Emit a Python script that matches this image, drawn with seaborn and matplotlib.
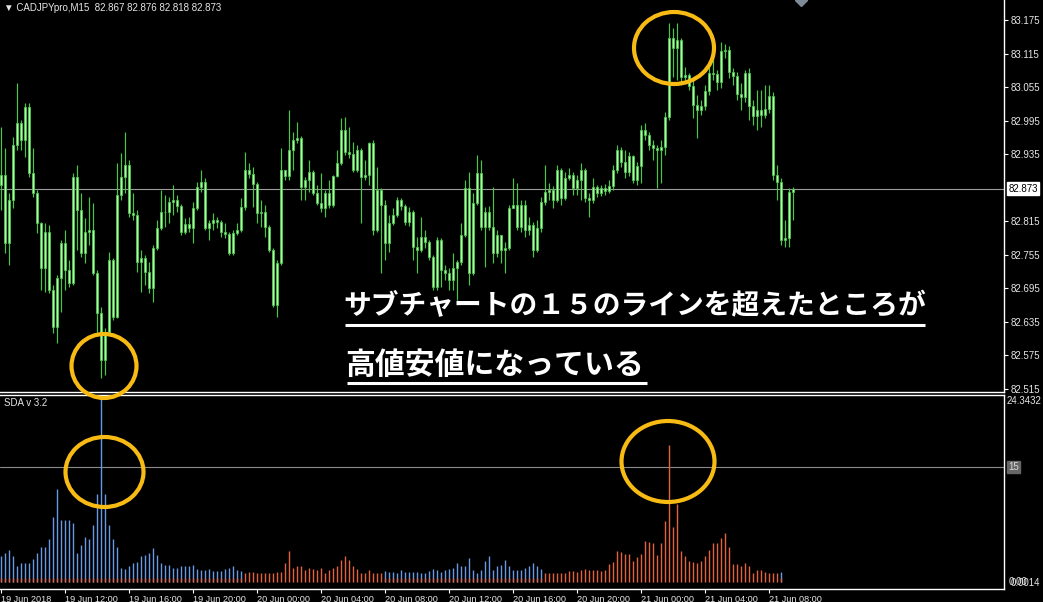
import numpy as np
import matplotlib
matplotlib.use('Agg')
import matplotlib.pyplot as plt
import seaborn as sns
from matplotlib.patches import Ellipse

# ---- data (CADJPY M15) ----
first_open = 82.880
close = [
    82.898, 82.776, 82.853, 82.952, 82.991, 82.961, 83.020, 82.901, 82.866, 82.812,
    82.732, 82.796, 82.692, 82.626, 82.714, 82.776, 82.728, 82.705, 82.894, 82.835,
    82.758, 82.796, 82.800, 82.723, 82.651, 82.567, 82.617, 82.746, 82.644, 82.862,
    82.894, 82.916, 82.830, 82.826, 82.742, 82.749, 82.724, 82.696, 82.767, 82.803,
    82.832, 82.832, 82.850, 82.853, 82.843, 82.796, 82.810, 82.803, 82.839, 82.876,
    82.885, 82.803, 82.812, 82.817, 82.814, 82.796, 82.792, 82.758, 82.794, 82.800,
    82.841, 82.907, 82.900, 82.882, 82.830, 82.832, 82.805, 82.764, 82.665, 82.741,
    82.907, 82.896, 82.943, 82.961, 82.964, 82.876, 82.889, 82.903, 82.866, 82.848,
    82.839, 82.866, 82.844, 82.896, 82.919, 82.978, 82.939, 82.936, 82.907, 82.943,
    82.894, 82.898, 82.955, 82.800, 82.871, 82.844, 82.776, 82.812, 82.826, 82.853,
    82.843, 82.814, 82.832, 82.769, 82.764, 82.787, 82.778, 82.751, 82.698, 82.782,
    82.728, 82.723, 82.710, 82.732, 82.742, 82.791, 82.875, 82.723, 82.848, 82.901,
    82.805, 82.832, 82.805, 82.758, 82.791, 82.764, 82.767, 82.839, 82.844, 82.805,
    82.844, 82.800, 82.809, 82.764, 82.803, 82.850, 82.868, 82.871, 82.853, 82.907,
    82.857, 82.893, 82.898, 82.875, 82.889, 82.907, 82.857, 82.853, 82.876, 82.866,
    82.875, 82.869, 82.878, 82.907, 82.943, 82.921, 82.903, 82.932, 82.889, 82.914,
    82.978, 82.970, 82.952, 82.946, 82.943, 82.948, 83.002, 83.143, 83.125, 83.139,
    83.073, 83.077, 83.057, 83.023, 83.014, 83.021, 83.048, 83.080, 83.079, 83.064,
    83.120, 83.122, 83.082, 83.075, 83.043, 83.037, 83.080, 83.021, 83.003, 83.014,
    83.005, 83.016, 83.039, 82.898, 82.885, 82.782, 82.785, 82.867, 82.873,
]
high = [
    82.984, 82.946, 82.866, 82.966, 83.063, 82.996, 83.027, 83.027, 82.946, 82.871,
    82.814, 82.812, 82.809, 82.701, 82.719, 82.782, 82.800, 82.746, 82.901, 82.916,
    82.866, 82.821, 82.859, 82.848, 82.728, 82.662, 82.624, 82.760, 82.749, 82.919,
    82.937, 82.975, 82.925, 82.866, 82.835, 82.764, 82.755, 82.742, 82.773, 82.817,
    82.871, 82.862, 82.859, 82.880, 82.862, 82.846, 82.821, 82.823, 82.850, 82.885,
    82.907, 82.893, 82.817, 82.830, 82.823, 82.817, 82.812, 82.796, 82.800, 82.812,
    82.857, 82.939, 82.919, 82.912, 82.885, 82.853, 82.844, 82.809, 82.767, 82.746,
    82.946, 82.907, 83.014, 82.975, 82.993, 82.968, 82.894, 82.925, 82.907, 82.880,
    82.901, 82.871, 82.889, 82.898, 82.943, 83.000, 83.002, 82.984, 82.957, 82.952,
    82.946, 82.925, 82.957, 82.961, 82.912, 82.875, 82.853, 82.826, 82.839, 82.859,
    82.857, 82.846, 82.841, 82.835, 82.787, 82.823, 82.800, 82.782, 82.755, 82.787,
    82.785, 82.737, 82.732, 82.758, 82.746, 82.812, 82.889, 82.903, 82.866, 82.934,
    82.925, 82.841, 82.843, 82.876, 82.800, 82.791, 82.778, 82.844, 82.893, 82.884,
    82.853, 82.853, 82.823, 82.814, 82.817, 82.859, 82.916, 82.884, 82.878, 82.916,
    82.910, 82.903, 82.910, 82.903, 82.898, 82.919, 82.910, 82.866, 82.893, 82.880,
    82.880, 82.882, 82.889, 82.916, 82.952, 82.948, 82.943, 82.939, 82.934, 82.921,
    82.987, 82.991, 82.975, 82.961, 82.952, 82.961, 83.011, 83.170, 83.161, 83.170,
    83.143, 83.091, 83.080, 83.068, 83.041, 83.032, 83.059, 83.091, 83.116, 83.086,
    83.136, 83.132, 83.129, 83.089, 83.082, 83.063, 83.086, 83.089, 83.032, 83.050,
    83.050, 83.059, 83.059, 83.046, 82.916, 82.893, 82.817, 82.875, 82.876,
]
low = [
    82.835, 82.758, 82.737, 82.839, 82.943, 82.943, 82.930, 82.894, 82.859, 82.794,
    82.692, 82.689, 82.687, 82.615, 82.597, 82.653, 82.692, 82.698, 82.701, 82.764,
    82.751, 82.741, 82.773, 82.719, 82.615, 82.535, 82.540, 82.612, 82.639, 82.642,
    82.853, 82.866, 82.823, 82.817, 82.724, 82.689, 82.701, 82.687, 82.671, 82.764,
    82.800, 82.805, 82.812, 82.826, 82.832, 82.791, 82.792, 82.796, 82.776, 82.835,
    82.868, 82.800, 82.782, 82.800, 82.803, 82.787, 82.785, 82.755, 82.755, 82.791,
    82.796, 82.835, 82.893, 82.841, 82.812, 82.805, 82.787, 82.760, 82.662, 82.644,
    82.737, 82.889, 82.889, 82.907, 82.955, 82.853, 82.853, 82.868, 82.862, 82.844,
    82.832, 82.823, 82.839, 82.841, 82.894, 82.916, 82.934, 82.928, 82.903, 82.903,
    82.812, 82.889, 82.880, 82.791, 82.796, 82.723, 82.746, 82.760, 82.809, 82.823,
    82.835, 82.809, 82.807, 82.746, 82.723, 82.760, 82.767, 82.746, 82.692, 82.692,
    82.698, 82.710, 82.692, 82.692, 82.674, 82.737, 82.787, 82.701, 82.719, 82.844,
    82.800, 82.733, 82.800, 82.741, 82.751, 82.741, 82.723, 82.764, 82.839, 82.800,
    82.796, 82.787, 82.791, 82.751, 82.760, 82.796, 82.844, 82.853, 82.839, 82.850,
    82.844, 82.853, 82.889, 82.862, 82.862, 82.853, 82.850, 82.823, 82.848, 82.859,
    82.860, 82.862, 82.866, 82.871, 82.901, 82.912, 82.893, 82.896, 82.884, 82.880,
    82.884, 82.961, 82.943, 82.925, 82.875, 82.884, 82.934, 82.996, 83.073, 83.068,
    83.059, 83.064, 83.050, 83.000, 82.964, 83.005, 83.014, 83.041, 83.068, 83.050,
    83.054, 83.107, 83.071, 83.059, 83.032, 83.014, 83.029, 82.996, 82.987, 82.978,
    82.984, 83.000, 83.009, 82.889, 82.853, 82.773, 82.769, 82.769, 82.818,
]

# SDA v3.2 sub-chart histogram
sda = [
    3.4, 3.7, 4.2, 3.4, 2.1, 2.4, 2.4, 2.4, 3.0, 3.8,
    4.5, 4.5, 5.6, 8.4, 12.1, 8.1, 8.1, 8.1, 7.6, 3.8,
    4.8, 5.9, 5.6, 7.4, 11.5, 24.34, 11.5, 7.4, 5.6, 4.5,
    1.8, 1.7, 2.0, 2.4, 2.6, 3.4, 3.5, 3.8, 4.4, 3.5,
    2.5, 2.2, 2.2, 1.8, 1.8, 2.0, 2.0, 2.0, 2.2, 1.7,
    1.6, 1.6, 1.7, 1.4, 1.4, 1.4, 1.7, 1.8, 2.0, 1.6,
    1.4, 1.2, 1.3, 1.3, 1.2, 1.2, 1.2, 1.2, 1.2, 1.3,
    1.3, 2.4, 4.0, 1.8, 2.1, 2.0, 1.5, 1.8, 1.7, 1.6,
    1.8, 1.2, 1.6, 1.8, 2.0, 2.8, 3.4, 2.9, 2.0, 1.7,
    1.2, 1.2, 1.6, 1.2, 1.2, 1.2, 1.4, 1.3, 1.3, 1.2,
    1.6, 1.3, 1.3, 1.3, 1.3, 1.2, 1.2, 1.4, 1.7, 1.6,
    1.3, 1.6, 1.7, 1.8, 2.5, 2.0, 2.1, 3.1, 1.6, 1.2,
    1.6, 2.7, 3.4, 1.6, 2.0, 2.2, 2.9, 2.0, 1.5, 1.6,
    1.6, 1.8, 2.1, 2.5, 2.1, 1.7, 1.2, 1.2, 1.2, 1.2,
    1.2, 1.2, 1.4, 1.4, 1.3, 1.6, 1.7, 1.6, 1.6, 1.6,
    1.4, 1.6, 2.3, 2.6, 4.0, 3.9, 3.6, 3.6, 2.7, 3.2,
    3.6, 5.3, 5.2, 5.0, 3.5, 5.1, 7.9, 17.8, 7.1, 10.2,
    4.0, 3.4, 2.7, 2.6, 2.5, 2.7, 3.4, 4.1, 5.1, 5.1,
    5.7, 6.3, 4.5, 2.3, 2.3, 2.1, 2.5, 2.0, 1.2, 1.5,
    1.5, 1.3, 1.2, 1.1, 1.2, 1.3,
]
# runs of histogram colour: (number of bars, side)
sda_runs = [(61, 'up'), (35, 'down'), (40, 'up'), (59, 'down'), (1, 'up')]
red_floor = 0.5
sda_level = 15
sda_max = 24.3432

price_ticks = [83.175, 83.115, 83.055, 82.995, 82.935, 82.815,
               82.755, 82.695, 82.635, 82.575, 82.515]
last_price = 82.873
time_labels = ['19 Jun 2018', '19 Jun 12:00', '19 Jun 16:00', '19 Jun 20:00',
               '20 Jun 00:00', '20 Jun 04:00', '20 Jun 08:00', '20 Jun 12:00',
               '20 Jun 16:00', '20 Jun 20:00', '21 Jun 00:00', '21 Jun 04:00',
               '21 Jun 08:00']
bars_per_label = 16

header = '\u25bc CADJPYpro,M15  82.867 82.876 82.818 82.873'
note1 = 'サブチャートの１５のラインを超えたところが'
note2 = '高値安値になっている'

# ---- style ----
sns.set_theme(style='dark', rc={'axes.facecolor': 'black',
                                'figure.facecolor': 'black',
                                'axes.grid': False})
plt.rcParams['font.family'] = ['Liberation Sans', 'DejaVu Sans']

W, H = 1043, 602
fig = plt.figure(figsize=(W / 100, H / 100), dpi=100)


def px_box(x0, y0, x1, y1):
    return [x0 / W, 1 - y1 / H, (x1 - x0) / W, (y1 - y0) / H]


ax = fig.add_axes(px_box(0, 0, 1004, 392))
ax2 = fig.add_axes(px_box(0, 395, 1004, 589))
ov = fig.add_axes([0, 0, 1, 1])
ov.set_xlim(0, W)
ov.set_ylim(H, 0)
ov.axis('off')
ov.patch.set_visible(False)

txt_col = '#e6e6e6'
green_edge = '#46c846'
green_fill = '#b4f4ac'
blue = '#6a98e4'
red = '#e4623f'
gold = '#f8bb14'

# ---- candles ----
n = min(len(close), len(high), len(low))
idx = np.arange(n)
c = np.array(close[:n])
o = np.array([first_open] + close[:n - 1])
hi = np.array(high[:n])
lo = np.array(low[:n])

ax.vlines(idx, lo, hi, color=green_edge, linewidth=0.85, zorder=2)
body_h = np.maximum(np.abs(c - o), 0.0004)
ax.bar(idx, body_h, bottom=np.minimum(o, c), width=0.5, color=green_fill,
       edgecolor=green_edge, linewidth=0.6, zorder=3)
ax.axhline(last_price, color='#9c9c9c', linewidth=0.8, zorder=1)

ax.set_xlim(-0.25, 250.75)
ax.set_ylim(82.5096, 83.2108)
ax.set_xticks([])
ax.yaxis.tick_right()
ax.set_yticks(price_ticks)
ax.set_yticklabels(['%.3f' % p for p in price_ticks])
ax.tick_params(axis='y', right=True, left=False, length=3, width=0.8,
               color='white', labelcolor=txt_col, labelsize=7, pad=2)
for s in ['top', 'left']:
    ax.spines[s].set_visible(False)
for s in ['right', 'bottom']:
    ax.spines[s].set_visible(True)
    ax.spines[s].set_color('white')
    ax.spines[s].set_linewidth(1)
ax.annotate('%.3f' % last_price, xy=(1.0, last_price),
            xycoords=('axes fraction', 'data'), xytext=(3, 0),
            textcoords='offset points', ha='left', va='center',
            fontsize=7, color='black',
            bbox=dict(boxstyle='square,pad=0.15', facecolor='white',
                      edgecolor='white'))

# ---- SDA histogram ----
m = len(sda)
hidx = np.arange(m)
sides = []
for count, side in sda_runs:
    sides += [side] * count
sides = sides[:m]
cols = [blue if s == 'up' else red for s in sides]
ax2.vlines(hidx, 0, sda, colors=cols, linewidth=1.0, zorder=2)
up_idx = [i for i in hidx if sides[i] == 'up']
ax2.vlines(up_idx, 0, red_floor, colors=red, linewidth=1.0, zorder=3)
ax2.axhline(sda_level, color='#8a8a8a', linewidth=0.8, zorder=1)

ax2.set_xlim(-0.25, 250.75)
ax2.set_ylim(-0.94, 24.35)
ax2.set_yticks([])
ax2.set_xticks(np.arange(len(time_labels)) * bars_per_label)
ax2.set_xticklabels(time_labels)
for lab in ax2.get_xticklabels():
    lab.set_horizontalalignment('left')
ax2.tick_params(axis='x', bottom=True, length=3, width=0.8, color='white',
                labelcolor=txt_col, labelsize=6.6, pad=1)
ax2.spines['left'].set_visible(False)
for s in ['top', 'right', 'bottom']:
    ax2.spines[s].set_visible(True)
    ax2.spines[s].set_color('white')
    ax2.spines[s].set_linewidth(1)

ax2.annotate('%.4f' % sda_max, xy=(1.0, sda_max),
             xycoords=('axes fraction', 'data'), xytext=(2, -1),
             textcoords='offset points', ha='left', va='top',
             fontsize=7, color=txt_col)
ax2.annotate(str(sda_level), xy=(1.0, sda_level),
             xycoords=('axes fraction', 'data'), xytext=(3, 0),
             textcoords='offset points', ha='left', va='center',
             fontsize=7, color='#d8d8d8',
             bbox=dict(boxstyle='square,pad=0.1', facecolor='#666666',
                       edgecolor='#666666'))
# the terminal prints these two on top of each other
ax2.annotate('0.00', xy=(1.0, 0), xycoords=('axes fraction', 'data'),
             xytext=(3, 0), textcoords='offset points', ha='left',
             va='center', fontsize=7, color=txt_col)
ax2.annotate('0.0014', xy=(1.0, 0), xycoords=('axes fraction', 'data'),
             xytext=(5, -1), textcoords='offset points', ha='left',
             va='center', fontsize=7, color=txt_col)

# ---- texts and annotations ----
ov.text(4, 8, header, fontsize=7, color=txt_col, ha='left', va='center')
ov.text(4, 403, 'SDA v 3.2', fontsize=7, color=txt_col, ha='left', va='center')
ov.plot(801, 0, marker='D', markersize=6, color='#7d8b98', clip_on=False)

jp = ['Noto Sans CJK JP', 'DejaVu Sans']
ov.text(343, 306, note1, family=jp, fontsize=20, fontweight='bold',
        color='white', ha='left', va='center')
ov.text(345, 365, note2, family=jp, fontsize=21.5, fontweight='bold',
        color='white', ha='left', va='center')
ov.plot([345, 925], [324.5, 324.5], color='white', linewidth=2.2,
        solid_capstyle='butt')
ov.plot([347, 647], [382.5, 382.5], color='white', linewidth=2.2,
        solid_capstyle='butt')

for (cx, cy, ew, eh) in [(674, 48, 80, 72), (104, 366, 65, 64),
                         (104.5, 472, 78, 70), (668, 461.5, 93, 81)]:
    ov.add_patch(Ellipse((cx, cy), ew, eh, fill=False, edgecolor=gold,
                         linewidth=3.0))

fig.savefig('out.png', dpi=100, facecolor='black')
